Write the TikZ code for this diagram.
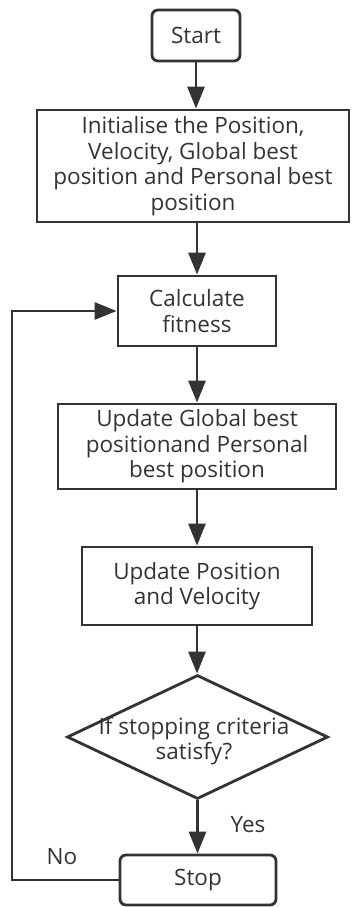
\documentclass[tikz,border=0pt]{standalone}
\usepackage{fontspec}
\setmainfont{Open Sans}
\usetikzlibrary{arrows.meta,shapes.geometric}
\definecolor{ink}{HTML}{333333}
\begin{document}
\begin{tikzpicture}[x=1pt,y=-1pt,
  every node/.style={font=\fontsize{22.5}{25.5}\selectfont, text=ink},
  box/.style={draw=ink, line width=2.8pt, rectangle, inner sep=0pt, align=center},
  term/.style={box, rounded corners=6pt},
  arr/.style={draw=ink, line width=2.8pt, -{Triangle[width=17pt,length=22pt]}},
  lbl/.style={inner sep=0pt}]
\useasboundingbox (0,0) rectangle (351,907);

\node[term, minimum width=88pt, minimum height=51pt] (start) at (196,35.5) {Start};
\node[box, minimum width=312pt, minimum height=112pt] (init) at (193,166)
  {Initialise the Position,\\Velocity, Global best\\position and Personal best\\position};
\node[box, minimum width=158pt, minimum height=70pt] (calc) at (197,311)
  {Calculate\\fitness};
\node[box, minimum width=278pt, minimum height=85pt] (updg) at (197,446.5)
  {Update Global best\\positionand Personal\\best position};
\node[box, minimum width=230pt, minimum height=78pt] (updp) at (197,586)
  {Update Position\\and Velocity};
\node[draw=ink, line width=2.8pt, diamond, inner sep=0pt,
  minimum width=261pt, minimum height=124pt] (dec) at (197.5,737) {};
\node[lbl, align=center] (dectext) at (194,741) {If stopping criteria\\satisfy?};
\node[term, minimum width=156pt, minimum height=50pt] (stop) at (198,880) {Stop};

\node[lbl] (yes) at (248,825) {Yes};
\node[lbl] (no) at (62,857) {No};

\coordinate (lp) at (12,880);

\draw[arr] (start.south) -- (start.south |- init.north);
\draw[arr] (init.south -| calc.north) -- (calc.north);
\draw[arr] (calc.south) -- (updg.north);
\draw[arr] (updg.south) -- (updp.north);
\draw[arr] (updp.south) -- (updp.south |- dec.north);
\draw[arr] (dec.south) -- (dec.south |- stop.north);
\draw[arr] (stop.west) -- (lp) |- (calc.west);
\end{tikzpicture}
\end{document}
